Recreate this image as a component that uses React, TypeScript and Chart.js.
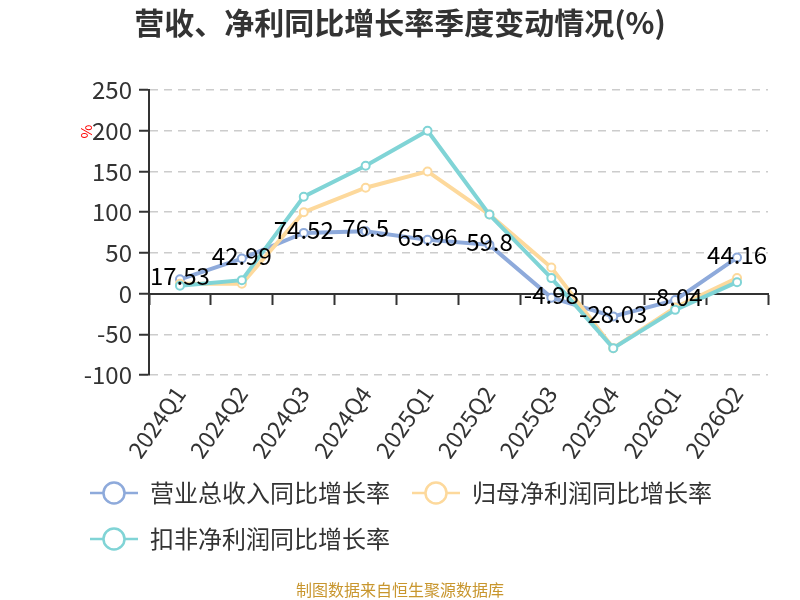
import React, { useEffect, useRef } from "react";
import { Chart, ChartConfiguration, registerables } from "chart.js";

Chart.register(...registerables);

const quarters = ["2024Q1", "2024Q2", "2024Q3", "2024Q4", "2025Q1", "2025Q2", "2025Q3", "2025Q4", "2026Q1", "2026Q2"];
const revenueGrowth = [17.53, 42.99, 74.52, 76.5, 65.96, 59.8, -4.98, -28.03, -8.04, 44.16];
const netProfitGrowth = [12, 12, 100, 130, 150, 97, 32, -67, -17, 19];
const deductedProfitGrowth = [9.5, 16.5, 119, 157, 200, 97, 19, -67, -20, 14];
const seriesNames = ["营业总收入同比增长率", "归母净利润同比增长率", "扣非净利润同比增长率"];
const seriesColors = ["#8eaadb", "#fdd99c", "#80d4d6"];
const titleText = "营收、净利同比增长率季度变动情况(%)";
const sourceText = "制图数据来自恒生聚源数据库";

const FONT = '"Noto Sans CJK SC", "Noto Sans", sans-serif';

// line + hollow circle used as legend symbol
function legendSymbol(color: string): HTMLCanvasElement {
  const c = document.createElement("canvas");
  c.width = 48;
  c.height = 26;
  const g = c.getContext("2d");
  if (g) {
    g.strokeStyle = color;
    g.lineWidth = 2.5;
    g.beginPath();
    g.moveTo(0, 13);
    g.lineTo(48, 13);
    g.stroke();
    g.beginPath();
    g.arc(24, 13, 10.5, 0, Math.PI * 2);
    g.fillStyle = "#fff";
    g.fill();
    g.stroke();
  }
  return c;
}

const valueLabels = {
  id: "valueLabels",
  afterDatasetsDraw(chart: Chart) {
    const ctx = chart.ctx;
    const meta = chart.getDatasetMeta(0);
    ctx.save();
    ctx.font = `24px ${FONT}`;
    ctx.fillStyle = "#000";
    ctx.textAlign = "center";
    ctx.textBaseline = "middle";
    meta.data.forEach((pt, i) => {
      ctx.fillText(String(revenueGrowth[i]), pt.x, pt.y - 3);
    });
    ctx.restore();
  },
};

// title, source note and the y-axis name, centred on the whole canvas
const texts = {
  id: "texts",
  afterDraw(chart: Chart) {
    const ctx = chart.ctx;
    const w = chart.width;
    ctx.save();
    ctx.textAlign = "center";
    ctx.textBaseline = "middle";
    ctx.font = `bold 30px ${FONT}`;
    ctx.fillStyle = "#333";
    ctx.fillText(titleText, w / 2, 23);
    ctx.font = `16px ${FONT}`;
    ctx.fillStyle = "#c8962e";
    ctx.fillText(sourceText, w / 2, chart.height - 10);

    const y = chart.scales.y;
    ctx.translate(y.left + 18, y.getPixelForValue(200) + 1);
    ctx.rotate(-Math.PI / 2);
    ctx.font = `15px ${FONT}`;
    ctx.fillStyle = "#ff0000";
    ctx.fillText("%", 0, 0);
    ctx.restore();
  },
};

const App: React.FC = () => {
  const chartRef = useRef<HTMLCanvasElement | null>(null);
  const chartInstance = useRef<Chart | null>(null);

  useEffect(() => {
    document.body.style.margin = "0";
    if (!chartRef.current) return;
    if (chartInstance.current) {
      chartInstance.current.destroy();
    }
    const ctx = chartRef.current.getContext("2d");
    if (!ctx) return;

    Chart.defaults.font.family = FONT;
    const values = [revenueGrowth, netProfitGrowth, deductedProfitGrowth];
    const symbols = seriesColors.map(legendSymbol);

    const config: ChartConfiguration = {
      type: "line",
      data: {
        labels: quarters,
        datasets: values.map((v, i) => ({
          label: seriesNames[i],
          data: v,
          xAxisID: "x",
          yAxisID: "y",
          borderColor: seriesColors[i],
          borderWidth: 4,
          pointRadius: 4,
          pointBorderWidth: 2,
          pointBackgroundColor: "#fff",
          pointBorderColor: seriesColors[i],
          tension: 0,
          order: 3 - i,
        })),
      },
      options: {
        responsive: false,
        animation: false,
        layout: { padding: { left: 68, right: 32, top: 90, bottom: 39 } },
        scales: {
          y: {
            min: -100,
            max: 250,
            ticks: { stepSize: 50, color: "#333", font: { size: 24 }, padding: 7 },
            grid: {
              color: "#cccccc",
              lineWidth: 1.5,
              drawTicks: true,
              tickLength: 10,
              tickColor: "#333",
              tickWidth: 2,
              tickBorderDash: [],
            },
            border: { display: true, color: "#333", width: 2, dash: [8, 6] },
            afterFit: (scale) => {
              scale.width = 81;
            },
          },
          x: {
            type: "category",
            position: { y: 0 },
            offset: true,
            ticks: { display: false },
            grid: {
              display: true,
              offset: true,
              drawOnChartArea: false,
              drawTicks: true,
              tickLength: 10,
              tickColor: "#333",
              tickWidth: 2,
            },
            border: { display: true, color: "#333", width: 2 },
          },
          x2: {
            type: "category",
            position: "bottom",
            offset: true,
            grid: { display: false, drawTicks: false },
            border: { display: false },
            ticks: {
              color: "#333",
              font: { size: 23 },
              minRotation: 55,
              maxRotation: 55,
              autoSkip: false,
              padding: 6,
            },
            afterFit: (scale) => {
              scale.height = 84;
            },
          },
        },
        plugins: {
          tooltip: { enabled: false },
          title: { display: false },
          legend: {
            position: "bottom",
            align: "start",
            labels: {
              usePointStyle: true,
              pointStyleWidth: 48,
              padding: 22,
              color: "#333",
              font: { size: 24 },
              generateLabels: (chart) =>
                chart.data.datasets.map((ds, i) => ({
                  text: String(ds.label),
                  datasetIndex: i,
                  pointStyle: symbols[i],
                  fillStyle: seriesColors[i],
                  strokeStyle: seriesColors[i],
                  fontColor: "#333",
                  hidden: false,
                  lineWidth: 0,
                })),
            },
          },
        },
      },
      plugins: [valueLabels, texts],
    };

    chartInstance.current = new Chart(ctx, config);

    return () => {
      if (chartInstance.current) {
        chartInstance.current.destroy();
      }
    };
  }, []);

  return <canvas ref={chartRef} width={800} height={600}></canvas>;
};

export default App;
